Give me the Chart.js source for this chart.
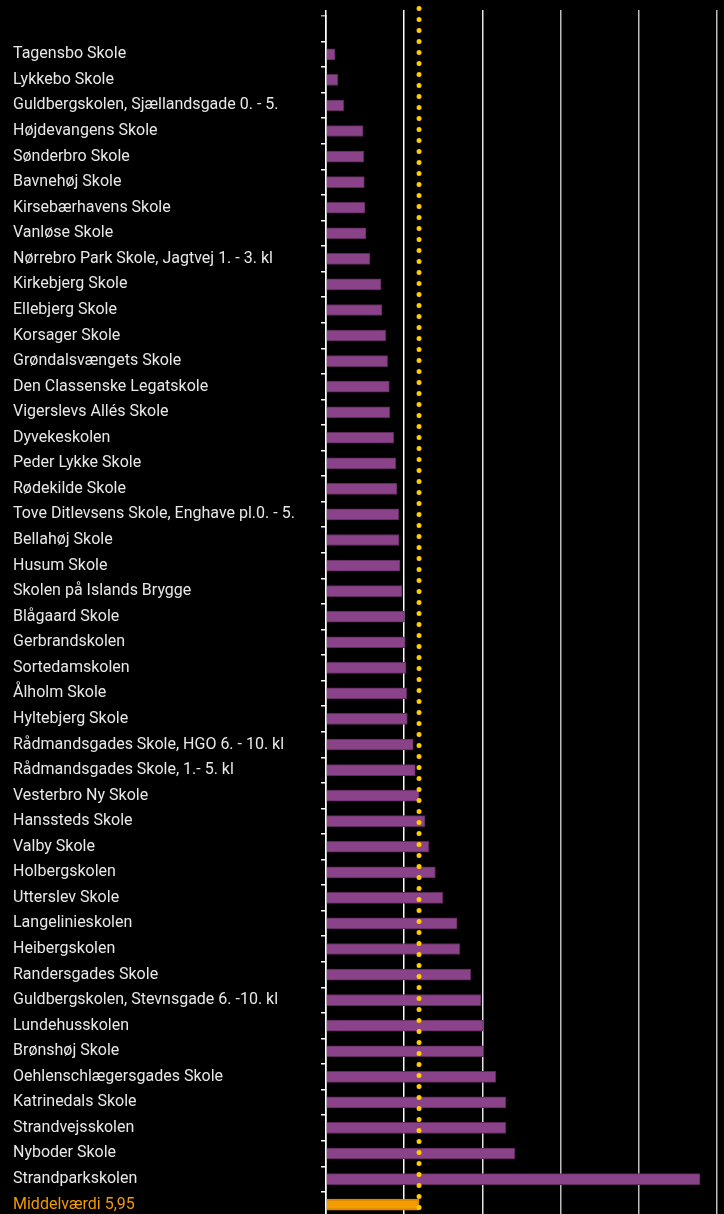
<!doctype html>
<html>
<head>
  <meta charset="utf-8" />
  <title>Skoler</title>
  <style>
    html,body{margin:0;padding:0;background:#000;overflow:hidden}
    .wrap{position:relative;width:724px;height:1227px}
  </style>
</head>
<body>
  <div class="wrap"><canvas id="chart"></canvas></div>

  <script src="https://cdn.jsdelivr.net/npm/chart.js@4.4.1/dist/chart.umd.min.js"></script>
  <script>
    // skoler, sorteret stigende
    const schools = [
      'Tagensbo Skole', 'Lykkebo Skole', 'Guldbergskolen, Sjællandsgade 0. - 5.', 'Højdevangens Skole',
      'Sønderbro Skole', 'Bavnehøj Skole', 'Kirsebærhavens Skole', 'Vanløse Skole',
      'Nørrebro Park Skole, Jagtvej 1. - 3. kl', 'Kirkebjerg Skole', 'Ellebjerg Skole', 'Korsager Skole',
      'Grøndalsvængets Skole', 'Den Classenske Legatskole', 'Vigerslevs Allés Skole', 'Dyvekeskolen',
      'Peder Lykke Skole', 'Rødekilde Skole', 'Tove Ditlevsens Skole, Enghave pl.0. - 5.', 'Bellahøj Skole',
      'Husum Skole', 'Skolen på Islands Brygge', 'Blågaard Skole', 'Gerbrandskolen',
      'Sortedamskolen', 'Ålholm Skole', 'Hyltebjerg Skole', 'Rådmandsgades Skole, HGO 6. - 10. kl',
      'Rådmandsgades Skole, 1.- 5. kl', 'Vesterbro Ny Skole', 'Hanssteds Skole', 'Valby Skole',
      'Holbergskolen', 'Utterslev Skole', 'Langelinieskolen', 'Heibergskolen',
      'Randersgades Skole', 'Guldbergskolen, Stevnsgade 6. -10. kl', 'Lundehusskolen', 'Brønshøj Skole',
      'Oehlenschlægersgades Skole', 'Katrinedals Skole', 'Strandvejsskolen', 'Nyboder Skole',
      'Strandparkskolen'
    ];
    const values = [
      0.58, 0.75, 1.13, 2.37,
      2.41, 2.45, 2.49, 2.56,
      2.81, 3.52, 3.58, 3.82,
      3.94, 4.05, 4.07, 4.33,
      4.46, 4.54, 4.65, 4.67,
      4.73, 4.86, 5.01, 5.07,
      5.12, 5.16, 5.20, 5.58,
      5.71, 5.95, 6.33, 6.57,
      6.99, 7.46, 8.38, 8.55,
      9.25, 9.91, 10.06, 10.08,
      10.85, 11.49, 11.49, 12.07,
      23.91
    ];
    const meanLabel = 'Middelværdi 5,95';
    const meanValue = 5.95;
    const xMax = 25;
    const xStep = 5;

    const labels = [''].concat(schools, [meanLabel]);
    const data = [null].concat(values, [meanValue]);
    const lastIdx = labels.length - 1;

    const PURPLE = '#8a4388', PURPLE_EDGE = '#5e2a5c';
    const ORANGE = '#f49d00', ORANGE_EDGE = '#d98600';

    const meanLine = {
      id: 'meanLine',
      afterDatasetsDraw(chart){
        const c = chart.ctx;
        const x = chart.scales.x.getPixelForValue(meanValue);
        c.save();
        c.strokeStyle = '#ffcc00';
        c.lineWidth = 5;
        c.lineCap = 'round';
        c.setLineDash([0, 11]);
        c.beginPath();
        c.moveTo(x, 8.5);
        c.lineTo(x, chart.height);
        c.stroke();
        c.restore();
      }
    };

    new Chart(document.getElementById('chart'), {
      type: 'bar',
      data: {
        labels,
        datasets: [{
          data,
          backgroundColor: data.map((v,i)=> i===lastIdx ? ORANGE : PURPLE),
          borderColor: data.map((v,i)=> i===lastIdx ? ORANGE_EDGE : PURPLE_EDGE),
          borderWidth: data.map((v,i)=> i===lastIdx ? 2 : 1),
          borderSkipped: 'left',
          barThickness: 11
        }]
      },
      options: {
        indexAxis: 'y',
        responsive: true,
        maintainAspectRatio: false,
        animation: false,
        layout: { padding: { left: 13, right: 7, top: 10, bottom: 0 } },
        plugins: { legend: { display: false }, tooltip: { enabled: false } },
        scales: {
          x: {
            position: 'top',
            min: 0, max: xMax,
            ticks: { display: false, stepSize: xStep },
            border: { display: false },
            grid: {
              drawTicks: true,
              tickLength: 6,
              lineWidth: 1.5,
              color: ctx => {
                const v = ctx.tick ? ctx.tick.value : 0;
                if (v <= 5) return '#ffffff';
                if (v <= 10) return '#e4e4e4';
                return '#bdbdbd';
              }
            }
          },
          y: {
            afterFit(scale){ scale.width = 313; },
            border: { display: true, color: '#ffffff', width: 1.5 },
            grid: {
              drawOnChartArea: false,
              drawTicks: true,
              tickLength: 5,
              lineWidth: 1.5,
              color: ctx => ctx.index === 0 ? '#aaaaaa' : '#ffffff'
            },
            ticks: {
              crossAlign: 'far',
              autoSkip: false,
              padding: 0,
              font: { family: 'Roboto', size: 16 },
              color: ctx => ctx.index === lastIdx ? '#f29a00' : '#e8e8e8'
            }
          }
        }
      },
      plugins: [meanLine]
    });
  </script>
</body>
</html>
